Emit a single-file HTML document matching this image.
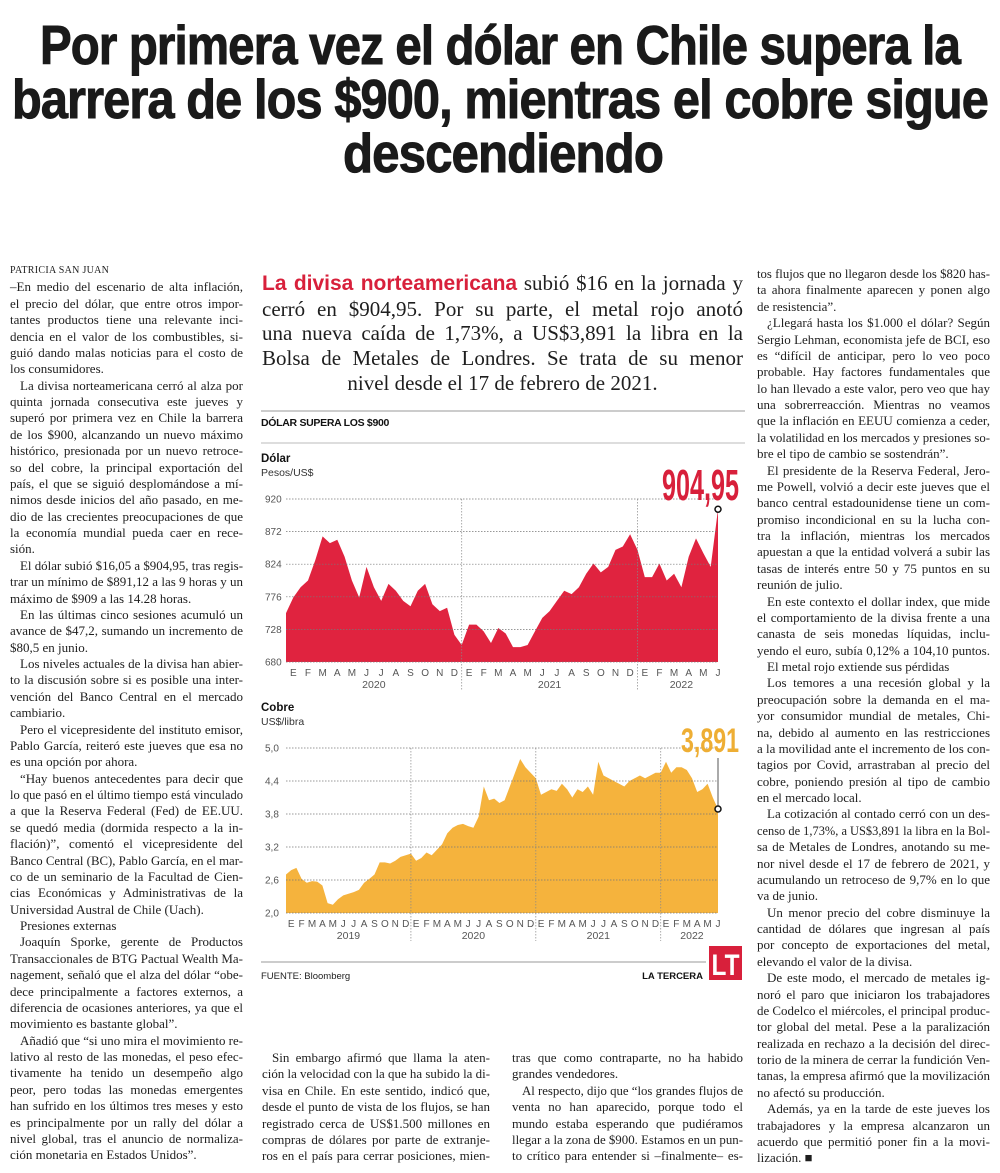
<!DOCTYPE html>
<html><head><meta charset="utf-8">
<style>
body{margin:0;background:#fff;}
#page{position:relative;width:1000px;height:1173px;overflow:hidden;background:#fff;color:#1e1e1e;}
.col{position:absolute;font-family:"Liberation Serif",serif;font-size:13px;line-height:16.37px;}
.l{white-space:nowrap;overflow:visible;}
.i{padding-left:10px;}
.title{position:absolute;font-family:"Liberation Sans",sans-serif;font-weight:bold;font-size:55px;line-height:54px;color:#1a1a1a;letter-spacing:-1px;-webkit-text-stroke:1px #1a1a1a;}
.intro{position:absolute;left:262px;top:271px;width:481px;font-family:"Liberation Serif",serif;font-size:21px;line-height:24.7px;}
.red{font-family:"Liberation Sans",sans-serif;font-weight:bold;color:#d8203b;}
svg text{font-family:"Liberation Sans",sans-serif;}
</style></head>
<body>
<div id="page">

<div class="title l j" style="left:40px;top:18px;width:920px;">Por primera vez el dólar en Chile supera la</div>
<div class="title l j" style="left:12px;top:72px;width:976px;">barrera de los $900, mientras el cobre sigue</div>
<div class="title l" style="left:343px;top:126px;width:320px;">descendiendo</div>

<div class="col" style="left:10px;top:263px;width:233px;">
<div class="l" style="font-size:10px;letter-spacing:0.3px;">PATRICIA SAN JUAN</div>
<div class="l j">–En medio del escenario de alta inflación,</div>
<div class="l j">el precio del dólar, que entre otros impor-</div>
<div class="l j">tantes productos tiene una relevante inci-</div>
<div class="l j">dencia en el valor de los combustibles, si-</div>
<div class="l j">guió dando malas noticias para el costo de</div>
<div class="l">los consumidores.</div>
<div class="l j i">La divisa norteamericana cerró al alza por</div>
<div class="l j">quinta jornada consecutiva este jueves y</div>
<div class="l j">superó por primera vez en Chile la barrera</div>
<div class="l j">de los $900, alcanzando un nuevo máximo</div>
<div class="l j">histórico, presionada por un nuevo retroce-</div>
<div class="l j">so del cobre, la principal exportación del</div>
<div class="l j">país, el que se siguió desplomándose a mí-</div>
<div class="l j">nimos desde inicios del año pasado, en me-</div>
<div class="l j">dio de las crecientes preocupaciones de que</div>
<div class="l j">la economía mundial pueda caer en rece-</div>
<div class="l">sión.</div>
<div class="l j i">El dólar subió $16,05 a $904,95, tras regis-</div>
<div class="l j">trar un mínimo de $891,12 a las 9 horas y un</div>
<div class="l">máximo de $909 a las 14.28 horas.</div>
<div class="l j i">En las últimas cinco sesiones acumuló un</div>
<div class="l j">avance de $47,2, sumando un incremento de</div>
<div class="l">$80,5 en junio.</div>
<div class="l j i">Los niveles actuales de la divisa han abier-</div>
<div class="l j">to la discusión sobre si es posible una inter-</div>
<div class="l j">vención del Banco Central en el mercado</div>
<div class="l">cambiario.</div>
<div class="l j i">Pero el vicepresidente del instituto emisor,</div>
<div class="l j">Pablo García, reiteró este jueves que esa no</div>
<div class="l">es una opción por ahora.</div>
<div class="l j i">“Hay buenos antecedentes para decir que</div>
<div class="l j">lo que pasó en el último tiempo está vinculado</div>
<div class="l j">a que la Reserva Federal (Fed) de EE.UU.</div>
<div class="l j">se quedó media (dormida respecto a la in-</div>
<div class="l j">flación)”, comentó el vicepresidente del</div>
<div class="l j">Banco Central (BC), Pablo García, en el mar-</div>
<div class="l j">co de un seminario de la Facultad de Cien-</div>
<div class="l j">cias Económicas y Administrativas de la</div>
<div class="l">Universidad Austral de Chile (Uach).</div>
<div class="l i">Presiones externas</div>
<div class="l j i">Joaquín Sporke, gerente de Productos</div>
<div class="l j">Transaccionales de BTG Pactual Wealth Ma-</div>
<div class="l j">nagement, señaló que el alza del dólar “obe-</div>
<div class="l j">dece principalmente a factores externos, a</div>
<div class="l j">diferencia de ocasiones anteriores, ya que el</div>
<div class="l">movimiento es bastante global”.</div>
<div class="l j i">Añadió que “si uno mira el movimiento re-</div>
<div class="l j">lativo al resto de las monedas, el peso efec-</div>
<div class="l j">tivamente ha tenido un desempeño algo</div>
<div class="l j">peor, pero todas las monedas emergentes</div>
<div class="l j">han sufrido en los últimos tres meses y esto</div>
<div class="l j">es principalmente por un rally del dólar a</div>
<div class="l j">nivel global, tras el anuncio de normaliza-</div>
<div class="l">ción monetaria en Estados Unidos”.</div>
</div>

<div class="intro">
<div class="l j"><span class="red">La divisa norteamericana</span> subió $16 en la jornada y</div>
<div class="l j">cerró en $904,95. Por su parte, el metal rojo anotó</div>
<div class="l j">una nueva caída de 1,73%, a US$3,891 la libra en la</div>
<div class="l j">Bolsa de Metales de Londres. Se trata de su menor</div>
<div class="l" style="text-align:center;">nivel desde el 17 de febrero de 2021.</div>
</div>

<div class="col" style="left:757px;top:266px;width:233px;">
<div class="l j">tos flujos que no llegaron desde los $820 has-</div>
<div class="l j">ta ahora finalmente aparecen y ponen algo</div>
<div class="l">de resistencia”.</div>
<div class="l j i">¿Llegará hasta los $1.000 el dólar? Según</div>
<div class="l j">Sergio Lehman, economista jefe de BCI, eso</div>
<div class="l j">es “difícil de anticipar, pero lo veo poco</div>
<div class="l j">probable. Hay factores fundamentales que</div>
<div class="l j">lo han llevado a este valor, pero veo que hay</div>
<div class="l j">una sobrerreacción. Mientras no veamos</div>
<div class="l j">que la inflación en EEUU comienza a ceder,</div>
<div class="l j">la volatilidad en los mercados y presiones so-</div>
<div class="l">bre el tipo de cambio se sostendrán”.</div>
<div class="l j i">El presidente de la Reserva Federal, Jero-</div>
<div class="l j">me Powell, volvió a decir este jueves que el</div>
<div class="l j">banco central estadounidense tiene un com-</div>
<div class="l j">promiso incondicional en su la lucha con-</div>
<div class="l j">tra la inflación, mientras los mercados</div>
<div class="l j">apuestan a que la entidad volverá a subir las</div>
<div class="l j">tasas de interés entre 50 y 75 puntos en su</div>
<div class="l">reunión de julio.</div>
<div class="l j i">En este contexto el dollar index, que mide</div>
<div class="l j">el comportamiento de la divisa frente a una</div>
<div class="l j">canasta de seis monedas líquidas, inclu-</div>
<div class="l j">yendo el euro, subía 0,12% a 104,10 puntos.</div>
<div class="l i">El metal rojo extiende sus pérdidas</div>
<div class="l j i">Los temores a una recesión global y la</div>
<div class="l j">preocupación sobre la demanda en el ma-</div>
<div class="l j">yor consumidor mundial de metales, Chi-</div>
<div class="l j">na, debido al aumento en las restricciones</div>
<div class="l j">a la movilidad ante el incremento de los con-</div>
<div class="l j">tagios por Covid, arrastraban al precio del</div>
<div class="l j">cobre, poniendo presión al tipo de cambio</div>
<div class="l">en el mercado local.</div>
<div class="l j i">La cotización al contado cerró con un des-</div>
<div class="l j">censo de 1,73%, a US$3,891 la libra en la Bol-</div>
<div class="l j">sa de Metales de Londres, anotando su me-</div>
<div class="l j">nor nivel desde el 17 de febrero de 2021, y</div>
<div class="l j">acumulando un retroceso de 9,7% en lo que</div>
<div class="l">va de junio.</div>
<div class="l j i">Un menor precio del cobre disminuye la</div>
<div class="l j">cantidad de dólares que ingresan al país</div>
<div class="l j">por concepto de exportaciones del metal,</div>
<div class="l">elevando el valor de la divisa.</div>
<div class="l j i">De este modo, el mercado de metales ig-</div>
<div class="l j">noró el paro que iniciaron los trabajadores</div>
<div class="l j">de Codelco el miércoles, el principal produc-</div>
<div class="l j">tor global del metal. Pese a la paralización</div>
<div class="l j">realizada en rechazo a la decisión del direc-</div>
<div class="l j">torio de la minera de cerrar la fundición Ven-</div>
<div class="l j">tanas, la empresa afirmó que la movilización</div>
<div class="l">no afectó su producción.</div>
<div class="l j i">Además, ya en la tarde de este jueves los</div>
<div class="l j">trabajadores y la empresa alcanzaron un</div>
<div class="l j">acuerdo que permitió poner fin a la movi-</div>
<div class="l">lización. ■</div>
</div>

<div class="col" style="left:262px;top:1050px;width:228px;">
<div class="l j i">Sin embargo afirmó que llama la aten-</div>
<div class="l j">ción la velocidad con la que ha subido la di-</div>
<div class="l j">visa en Chile. En este sentido, indicó que,</div>
<div class="l j">desde el punto de vista de los flujos, se han</div>
<div class="l j">registrado cerca de US$1.500 millones en</div>
<div class="l j">compras de dólares por parte de extranje-</div>
<div class="l j">ros en el país para cerrar posiciones, mien-</div>
</div>
<div class="col" style="left:512px;top:1050px;width:231px;">
<div class="l j">tras que como contraparte, no ha habido</div>
<div class="l">grandes vendedores.</div>
<div class="l j i">Al respecto, dijo que “los grandes flujos de</div>
<div class="l j">venta no han aparecido, porque todo el</div>
<div class="l j">mundo estaba esperando que pudiéramos</div>
<div class="l j">llegar a la zona de $900. Estamos en un pun-</div>
<div class="l j">to crítico para entender si –finalmente– es-</div>
</div>

<svg id="chart" width="1000" height="1173" style="position:absolute;left:0;top:0;"></svg>
</div>

<script>
// ---- Dólar data (biweekly, Jan 2020 – Jun 2022), pesos per US$
const dolarYears = ['2020','2021','2022'];
const dolarValues = [752,775,790,800,830,865,855,860,835,800,775,820,790,770,795,785,770,762,785,795,765,755,760,720,
 705,735,735,725,708,730,722,702,702,705,725,745,755,770,785,780,790,810,825,812,820,845,850,868,
 845,805,805,825,800,810,790,835,862,840,820,904.95];
const dolarTicks = [680,728,776,824,872,920];
const dolarLast = '904,95';
// ---- Cobre data (biweekly, Jan 2019 – Jun 2022), US$ per libra
const cobreYears = ['2019','2020','2021','2022'];
const cobreValues = [2.70,2.78,2.82,2.62,2.55,2.58,2.57,2.50,2.18,2.15,2.25,2.32,2.35,2.38,2.42,2.55,2.62,2.70,2.92,2.92,2.90,2.95,3.02,3.05,
 3.08,2.95,3.00,3.10,3.05,3.15,3.25,3.45,3.55,3.60,3.62,3.58,3.55,3.75,4.30,4.05,4.08,4.00,4.05,4.30,4.55,4.80,4.65,4.55,
 4.45,4.15,4.20,4.25,4.22,4.35,4.25,4.10,4.25,4.20,4.30,4.15,4.75,4.50,4.45,4.40,4.35,4.30,4.40,4.45,4.50,4.45,4.50,4.55,
 4.55,4.75,4.55,4.65,4.65,4.60,4.45,4.20,4.25,4.35,4.10,3.891];
const cobreTicks = ['2,0','2,6','3,2','3,8','4,4','5,0'];
const cobreTickValues = [2.0,2.6,3.2,3.8,4.4,5.0];
const cobreLast = '3,891';
const monthLetters = ['E','F','M','A','M','J','J','A','S','O','N','D'];

const NS='http://www.w3.org/2000/svg';
const svg=document.getElementById('chart');
function mk(tag,attrs,parent){const e=document.createElementNS(NS,tag);for(const k in attrs)e.setAttribute(k,attrs[k]);(parent||svg).appendChild(e);return e;}
function txt(x,y,s,attrs,parent){const e=mk('text',Object.assign({x:x,y:y},attrs||{}),parent);e.textContent=s;return e;}

let e;
e=mk('line',{x1:261,y1:411,x2:745,y2:411,stroke:'#999','stroke-width':1});


e=txt(261,426,'DÓLAR SUPERA LOS $900',{'font-size':10.5,'font-weight':'bold',fill:'#111','letter-spacing':'-0.3'});


e=mk('line',{x1:261,y1:443,x2:745,y2:443,stroke:'#bbb','stroke-width':1});



function drawChart(o){
  const x0=286,x1=718;
  const nMonths=(o.values.length-1)/2;
  const xs=t=>x0+t*(x1-x0)/nMonths;
  const ys=v=>o.yBase-(v-o.vMin)/(o.vMax-o.vMin)*(o.yBase-o.yTop);
  const g=mk('g',{});
  
  
  let t=txt(261,o.yTop-37,o.title,{'font-size':11.5,'font-weight':'bold',fill:'#111'},g);
  
  
  t=txt(261,o.yTop-23,o.unit,{'font-size':10.5,fill:'#333'},g);
  
  
  let d='M'+xs(0)+','+o.yBase;
  o.values.forEach((v,i)=>{d+=' L'+xs(i/2).toFixed(1)+','+ys(v).toFixed(1);});
  d+=' L'+xs((o.values.length-1)/2)+','+o.yBase+' Z';
  const p=mk('path',{d:d,fill:o.color},g);
  
  
  o.tickValues.forEach((v,i)=>{
    const gl=mk('line',{x1:x0,x2:x1,y1:ys(v),y2:ys(v),stroke:'#777','stroke-width':0.7,'stroke-dasharray':'1.5,1.5'},g);
    
    
    const tl=txt(265,ys(v)+3.5,o.tickLabels[i],{'font-size':10,fill:'#555'},g);
    
    
  });
  o.years.forEach((yr,yi)=>{
    const maxM=Math.min(12,Math.ceil(nMonths+0.5-yi*12));
    for(let m=0;m<maxM;m++){
      const ml=txt(xs(yi*12+m+0.5),o.yBase+14,monthLetters[m],{'font-size':10,fill:'#555','text-anchor':'middle'},g);
      
      
    }
    const cx=(xs(yi*12)+xs(yi*12+maxM))/2;
    const yl=txt(cx,o.yBase+26,yr,{'font-size':10.5,fill:'#555','text-anchor':'middle'},g);
    
    
    if(yi>0){
      const dv=mk('line',{x1:xs(yi*12),x2:xs(yi*12),y1:o.yTop,y2:o.yBase+28,stroke:'#888','stroke-width':0.7,'stroke-dasharray':'1.5,1.5'},g);
      
      
    }
  });
  const last=o.values[o.values.length-1];
  const lx=xs((o.values.length-1)/2), ly=ys(last);
  if(o.stem){
    const st=mk('line',{x1:lx,x2:lx,y1:o.stemTop,y2:ly-3,stroke:'#555','stroke-width':1},g);
    
    
  }
  const c=mk('circle',{cx:lx,cy:ly,r:3,fill:'#fff',stroke:'#111','stroke-width':1.5},g);
  
  
  const bl=txt(o.lblX,o.lblY,o.lastLabel,{'font-size':o.lblSize,fill:o.lblColor,'font-weight':'bold',textLength:o.lblW,lengthAdjust:'spacingAndGlyphs'},g);
  
  
}
drawChart({name:'dolar',title:'Dólar',unit:'Pesos/US$',values:dolarValues,years:dolarYears,vMin:680,vMax:920,yTop:499,yBase:662,
  tickValues:dolarTicks,tickLabels:dolarTicks.map(String),color:'#e0233f',lastLabel:dolarLast,lblX:662,lblY:500,lblSize:44,lblW:77,lblColor:'#d8203b'});
drawChart({name:'cobre',title:'Cobre',unit:'US$/libra',values:cobreValues,years:cobreYears,vMin:2.0,vMax:5.0,yTop:748,yBase:913,
  tickValues:cobreTickValues,tickLabels:cobreTicks,color:'#f5b33d',lastLabel:cobreLast,lblX:681,lblY:752,lblSize:34,lblW:58,lblColor:'#eeae34',stem:true,stemTop:758});

e=mk('line',{x1:261,y1:962,x2:706,y2:962,stroke:'#999','stroke-width':1});


e=txt(261,979,'FUENTE: Bloomberg',{'font-size':9.5,fill:'#222'});


e=txt(703,979,'LA TERCERA',{'font-size':9.5,'font-weight':'bold',fill:'#111','text-anchor':'end'});


e=mk('rect',{x:709,y:946,width:33,height:34,fill:'#d8203b'});


e=txt(725.5,975,'LT',{'font-size':30,'font-weight':'bold',fill:'#fff','text-anchor':'middle',textLength:28,lengthAdjust:'spacingAndGlyphs'});



document.querySelectorAll('.l').forEach(el=>{
  const cs=getComputedStyle(el);
  const W=el.clientWidth-parseFloat(cs.paddingLeft)-parseFloat(cs.paddingRight);
  const s=document.createElement('span');
  s.style.whiteSpace='nowrap';
  while(el.firstChild)s.appendChild(el.firstChild);
  el.appendChild(s);
  const w=s.getBoundingClientRect().width;
  if(w>W){
    s.style.display='inline-block';
    s.style.transformOrigin='left center';
    s.style.transform='scaleX('+(W/w)+')';
    s.style.width=w+'px';
  } else if(el.classList.contains('j')){
    s.style.whiteSpace='normal';
    el.style.whiteSpace='normal';
    el.style.textAlign='justify';
    el.style.textAlignLast='justify';
  }
});
</script>
</body></html>
